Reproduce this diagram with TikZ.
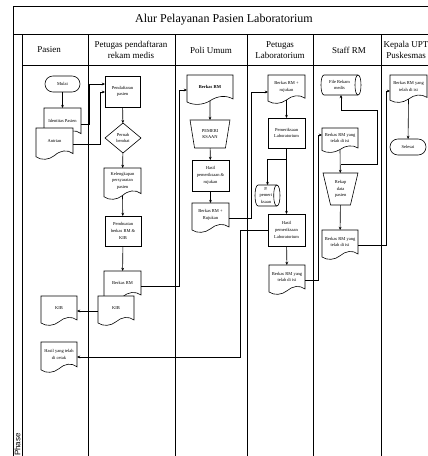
\documentclass[tikz,border=0pt]{standalone}
\usepackage{fontspec}
\setmainfont{Liberation Serif}
\newfontfamily\phasefont{Liberation Sans}
\usetikzlibrary{shapes.geometric,arrows.meta}

\tikzset{
  lane/.style={line width=1pt, black},
  shp/.style={draw=black, line width=0.6pt, fill=white},
  flow/.style={line width=0.6pt, -{Stealth[length=3.2pt,width=2.8pt]}},
  small/.style={font=\fontsize{4.5}{6.7}\selectfont, align=center, inner sep=0pt},
  hole/.style={rectangle, draw=none, inner sep=0pt, outer sep=0pt},
  procbox/.style={rectangle, shp, small, outer sep=0pt},
  termbox/.style={rectangle, rounded corners=7.9pt, shp, small, outer sep=0pt},
  decision/.style={diamond, shp, small, outer sep=0pt},
  manual/.style={trapezium, shp, small, outer sep=0pt, trapezium stretches=true,
    shape border rotate=180, trapezium left angle=76, trapezium right angle=76},
  hdr/.style={font=\fontsize{9}{11.5}\selectfont, align=center, inner sep=0pt},
}

% document symbol: name, left, top, width, height, text (optional font)
\newcommand{\docnode}[7][]{%
  \pgfmathsetmacro\dL{#3}\pgfmathsetmacro\dT{#4}%
  \pgfmathsetmacro\dW{#5}\pgfmathsetmacro\dH{#6}%
  \pgfmathsetmacro\dR{\dL+\dW}\pgfmathsetmacro\dC{\dL+\dW/2}%
  \node[hole, minimum width=\dW pt, minimum height=\dH pt] (#2) at (\dC,\dT+\dH/2) {};
  \coordinate (#2-b) at (\dC,\dT+0.86*\dH);
  \draw[shp] (\dL,\dT) -- (\dR,\dT) -- (\dR,\dT+0.8*\dH)
    .. controls (\dR-0.15*\dW,\dT+0.66*\dH) and (\dC+0.15*\dW,\dT+0.7*\dH) .. (\dC,\dT+0.86*\dH)
    .. controls (\dC-0.15*\dW,\dT+1.0*\dH) and (\dL+0.15*\dW,\dT+1.02*\dH) .. (\dL,\dT+0.9*\dH) -- cycle;
  \node[small, #1] at (\dC,\dT+0.4*\dH) {#7};
}

% horizontal drum (stored data): name, left, top, width, height, text
\newcommand{\drumnode}[6]{%
  \pgfmathsetmacro\cL{#2}\pgfmathsetmacro\cT{#3}%
  \pgfmathsetmacro\cW{#4}\pgfmathsetmacro\cH{#5}%
  \pgfmathsetmacro\cR{\cL+\cW}\pgfmathsetmacro\cB{\cT+\cH}%
  \pgfmathsetmacro\rx{0.15*\cH}\pgfmathsetmacro\kx{1.33*\rx}%
  \node[hole, minimum width=\cW pt, minimum height=\cH pt] (#1) at (\cL+\cW/2,\cT+\cH/2) {};
  \draw[shp] (\cL+\rx,\cT) -- (\cR-\rx,\cT)
    .. controls (\cR-\rx+\kx,\cT) and (\cR-\rx+\kx,\cB) .. (\cR-\rx,\cB)
    -- (\cL+\rx,\cB)
    .. controls (\cL+\rx-\kx,\cB) and (\cL+\rx-\kx,\cT) .. cycle;
  \draw[shp, fill=none] (\cR-\rx,\cT) .. controls (\cR-\rx-\kx,\cT) and (\cR-\rx-\kx,\cB) .. (\cR-\rx,\cB);
  \node[small] at (\cL+\cW/2-\rx/2,\cT+\cH/2) {#6};
}

\begin{document}
\begin{tikzpicture}[x=1pt, y=-1pt]
\useasboundingbox (0,0) rectangle (428,456);
\fill[white] (0,0) rectangle (428,456);
\clip (0,0) rectangle (428,456);

% pool frame, title row and lane header row
\draw[lane] (13,470) -- (13,6) -- (470,6);
\draw[lane] (13,34) -- (470,34);
\draw[lane] (22,65) -- (470,65);
\foreach \lx in {22,88,175,247,313,381,446}
  \draw[lane] (\lx,34) -- (\lx,470);

\node[font=\fontsize{12}{14}\selectfont, inner sep=0pt] (title) at (224,20) {Alur Pelayanan Pasien Laboratorium};
\node[hdr] (h1) at (49,50) {Pasien};
\node[hdr] (h2) at (131,50) {Petugas pendaftaran\\rekam medis};
\node[hdr] (h3) at (211,50) {Poli Umum};
\node[hdr] (h4) at (280,50) {Petugas\\Laboratorium};
\node[hdr] (h5) at (349,50) {Staff RM};
\node[hdr] (h6) at (406,50) {Kepala UPT\\Puskesmas};
\node[font=\phasefont\fontsize{8}{9}\selectfont, rotate=90, anchor=east, inner sep=0pt] (phase) at (17.6,433) {Phase};

% Pasien
\node[termbox, minimum width=35pt, minimum height=16pt] (mulai) at (62.5,84) {Mulai};
\docnode{identitas}{44}{108}{37}{32}{Identitas Pasien}
\docnode{antrian}{36}{128}{37}{32}{Antrian}
\docnode{kib0}{41}{296}{36}{30}{KIB}
\docnode{hasilcetak}{41}{342}{36}{31}{Hasil yang telah\\di cetak}

% Petugas pendaftaran rekam medis
\node[procbox, minimum width=35pt, minimum height=31pt] (pendaftaran) at (122.5,91.5) {Pendaftaran\\pasien};
\node[decision, minimum width=36pt, minimum height=30pt, inner sep=0pt] (pernah) at (123,138) {Pernah\\berobat};
\docnode{kelengkapan}{104}{168}{37}{32}{Kelengkapan\\persyaratan\\pasien}
\node[procbox, minimum width=36pt, minimum height=30pt] (pembuatan) at (123,231) {Pembuatan\\berkas RM \&\\KIB};
\docnode{berkasrm1}{104}{271}{37}{30}{Berkas RM}
\docnode{kib1}{98}{296}{36}{30}{KIB}

% Poli Umum
\docnode[font=\bfseries\fontsize{4.5}{6.7}\selectfont]{berkasrm2}{187}{75}{46}{30}{Berkas RM}
\node[manual, minimum width=40pt, minimum height=28pt] (pemeriksaan) at (210,134) {PEMERI\\KSAAN};
\node[procbox, minimum width=37pt, minimum height=31pt] (hasilpoli) at (210.5,175.5) {Hasil\\pemeriksaan \&\\rujukan};
\docnode{berkasruj}{192}{203}{37}{30}{Berkas RM +\\Rujukan}

% Petugas Laboratorium
\docnode{berkasruj2}{268}{75}{37}{29}{Berkas RM +\\rujukan}
\node[procbox, minimum width=37pt, minimum height=30pt] (pemlab) at (286.5,133) {Pemeriksaan\\Laboratorium};
\drumnode{ppem}{255}{185}{25}{21}{P.\\pemeri\\ksaan}
\node[procbox, minimum width=37pt, minimum height=32pt] (hasillab) at (286.5,230) {Hasil\\pemeriksaan\\Laboratorium};
\docnode{berkasisi1}{269}{265}{36}{30}{Berkas RM yang\\telah di isi}

% Staff RM
\drumnode{filerm}{321}{75}{40}{20}{File Rekam\\medis}
\docnode{berkasisi2}{322}{128}{36}{25}{Berkas RM yang\\telah di isi}
\node[manual, minimum width=35pt, minimum height=32pt] (rekap) at (340.5,189) {Rekap\\data\\pasien};
\docnode{berkasisi3}{322}{230}{36}{30}{Berkas RM yang\\telah di isi}

% Kepala UPT Puskesmas
\docnode{berkasisi4}{390}{75}{37}{28}{Berkas RM yang\\telah di isi}
\node[termbox, minimum width=36pt, minimum height=16pt] (selesai) at (408,147) {Selesai};

% connectors
\draw[flow] (mulai) -- (identitas);
\draw[flow] (identitas.east) -- (89,124) -- (89,84) -- (pendaftaran.west |- 0,84);
\draw[flow] (antrian.east) -- (100,144) -- (100,92) -- (pendaftaran.west |- 0,92);
\draw[flow] (pendaftaran) -- (pernah);
\draw[flow] (pernah) -- (kelengkapan);
\draw[flow] (kelengkapan-b) -- (pembuatan);
\draw[flow] (pembuatan) -- (berkasrm1);
\draw[flow] (berkasrm1.east) -- (179,286) -- (179,90) -- (berkasrm2.west |- 0,90);
\draw[flow] (kib1.west) -- (kib0.east);

\draw[flow] (berkasrm2-b) -- (pemeriksaan);
\draw[flow] (pemeriksaan) -- (hasilpoli);
\draw[flow] (hasilpoli) -- (berkasruj);
\draw[flow] (berkasruj.east) -- (251,218) -- (251,92) -- (berkasruj2.west |- 0,92);

\draw[flow] (berkasruj2-b) -- (pemlab);
\draw[flow] (pemlab) -- (hasillab);
\draw[flow] (pemlab.south |- 0,159) -- (ppem.north |- 0,159) -- (ppem.north);
\draw[flow] (hasillab.west) -- (240,230) -- (240,357) -- (hasilcetak.east |- 0,357);
\draw[flow] (hasillab) -- (berkasisi1);
\draw[flow] (berkasisi1.east) -- (318,280) -- (318,135) -- (berkasisi2.west |- 0,135);

\draw[flow] (berkasisi2-b) -- (rekap);
\coordinate (loop) at (rekap.north |- 0,164);
\draw[flow] (loop) -- (377,164) -- (377,110) -- (filerm.south |- 0,110) -- (filerm.south);
\draw[flow] (rekap) -- (berkasisi3);
\draw[flow] (berkasisi3.east) -- (386,245) -- (386,91) -- (berkasisi4.west |- 0,91);
\draw[flow] (berkasisi4-b) -- (selesai);
\end{tikzpicture}
\end{document}
